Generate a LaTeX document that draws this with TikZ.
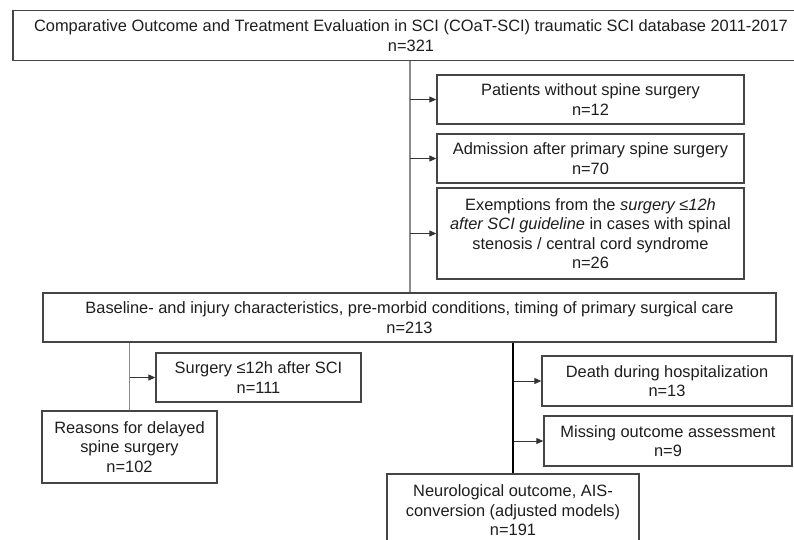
\documentclass[tikz,border=0pt]{standalone}
\usepackage{fontspec}
\setmainfont{Liberation Sans}
\usetikzlibrary{arrows.meta}
\definecolor{boxc}{HTML}{454545}
\definecolor{txtc}{HTML}{1E1E1E}
\definecolor{linec}{HTML}{8C8C8C}
\definecolor{arrc}{HTML}{333333}
\begin{document}
\begin{tikzpicture}[x=1pt,y=-1pt,
  box/.style={draw=boxc, line width=1.4pt, align=center, inner sep=0pt,
    font=\fontsize{16.4}{19.5}\selectfont, text=txtc},
  conn/.style={draw=linec, line width=1.3pt},
  arr/.style={draw=arrc, line width=1pt, -{Triangle[length=7pt,width=6pt]}},
]
\clip (0,0) rectangle (794,539);
\fill[white] (0,0) rectangle (794,539);

\node[box, minimum width=796pt, minimum height=50pt] (top) at (411,35.5)
  {Comparative Outcome and Treatment Evaluation in SCI (COaT-SCI) traumatic SCI database 2011-2017\\ n=321};

\node[box, minimum width=307pt, minimum height=49pt] (p1) at (590.5,99.5)
  {Patients without spine surgery\\ n=12};
\node[box, minimum width=307pt, minimum height=49pt] (p2) at (590.5,158.5)
  {Admission after primary spine surgery\\ n=70};
\node[box, minimum width=307pt, minimum height=91pt] (p3) at (590.5,233.5)
  {Exemptions from the \textit{surgery ≤12h}\\ \textit{after SCI guideline} in cases with spinal\\ stenosis / central cord syndrome\\ n=26};

\node[box, minimum width=733pt, minimum height=49pt] (base) at (409.5,317.5)
  {Baseline- and injury characteristics, pre-morbid conditions, timing of primary surgical care\\ n=213};

\node[box, minimum width=205pt, minimum height=49pt] (surg) at (258.5,377.5)
  {Surgery ≤12h after SCI\\ n=111};
\node[box, minimum width=175pt, minimum height=72pt] (reas) at (129.5,447)
  {Reasons for delayed\\ spine surgery\\ n=102};

\node[box, minimum width=250pt, minimum height=50pt] (death) at (667,381)
  {Death during hospitalization\\ n=13};
\node[box, minimum width=248pt, minimum height=50pt] (miss) at (668,441)
  {Missing outcome assessment\\ n=9};

\node[box, minimum width=252pt, minimum height=73pt] (neuro) at (513,510.5)
  {Neurological outcome, AIS-\\ conversion (adjusted models)\\ n=191};

% top trunk
\coordinate (t1) at (410,0 |- top.south);
\coordinate (t2) at (410,0 |- base.north);
\draw[conn] (t1) -- (t2);
\draw[arr] (p1.west -| t1) -- (p1.west);
\draw[arr] (p2.west -| t1) -- (p2.west);
\draw[arr] (p3.west -| t1) -- (p3.west);

% left branch
\coordinate (l1) at (reas.north |- base.south);
\draw[conn] (l1) -- (reas.north);
\draw[arr] (surg.west -| l1) -- (surg.west);

% right branch
\draw[draw=black, line width=2pt] (neuro.north |- base.south) -- (neuro.north);
\draw[arr] ([xshift=1pt]death.west -| neuro.north) -- (death.west);
\draw[arr] ([xshift=1pt]miss.west -| neuro.north) -- (miss.west);
\end{tikzpicture}
\end{document}
